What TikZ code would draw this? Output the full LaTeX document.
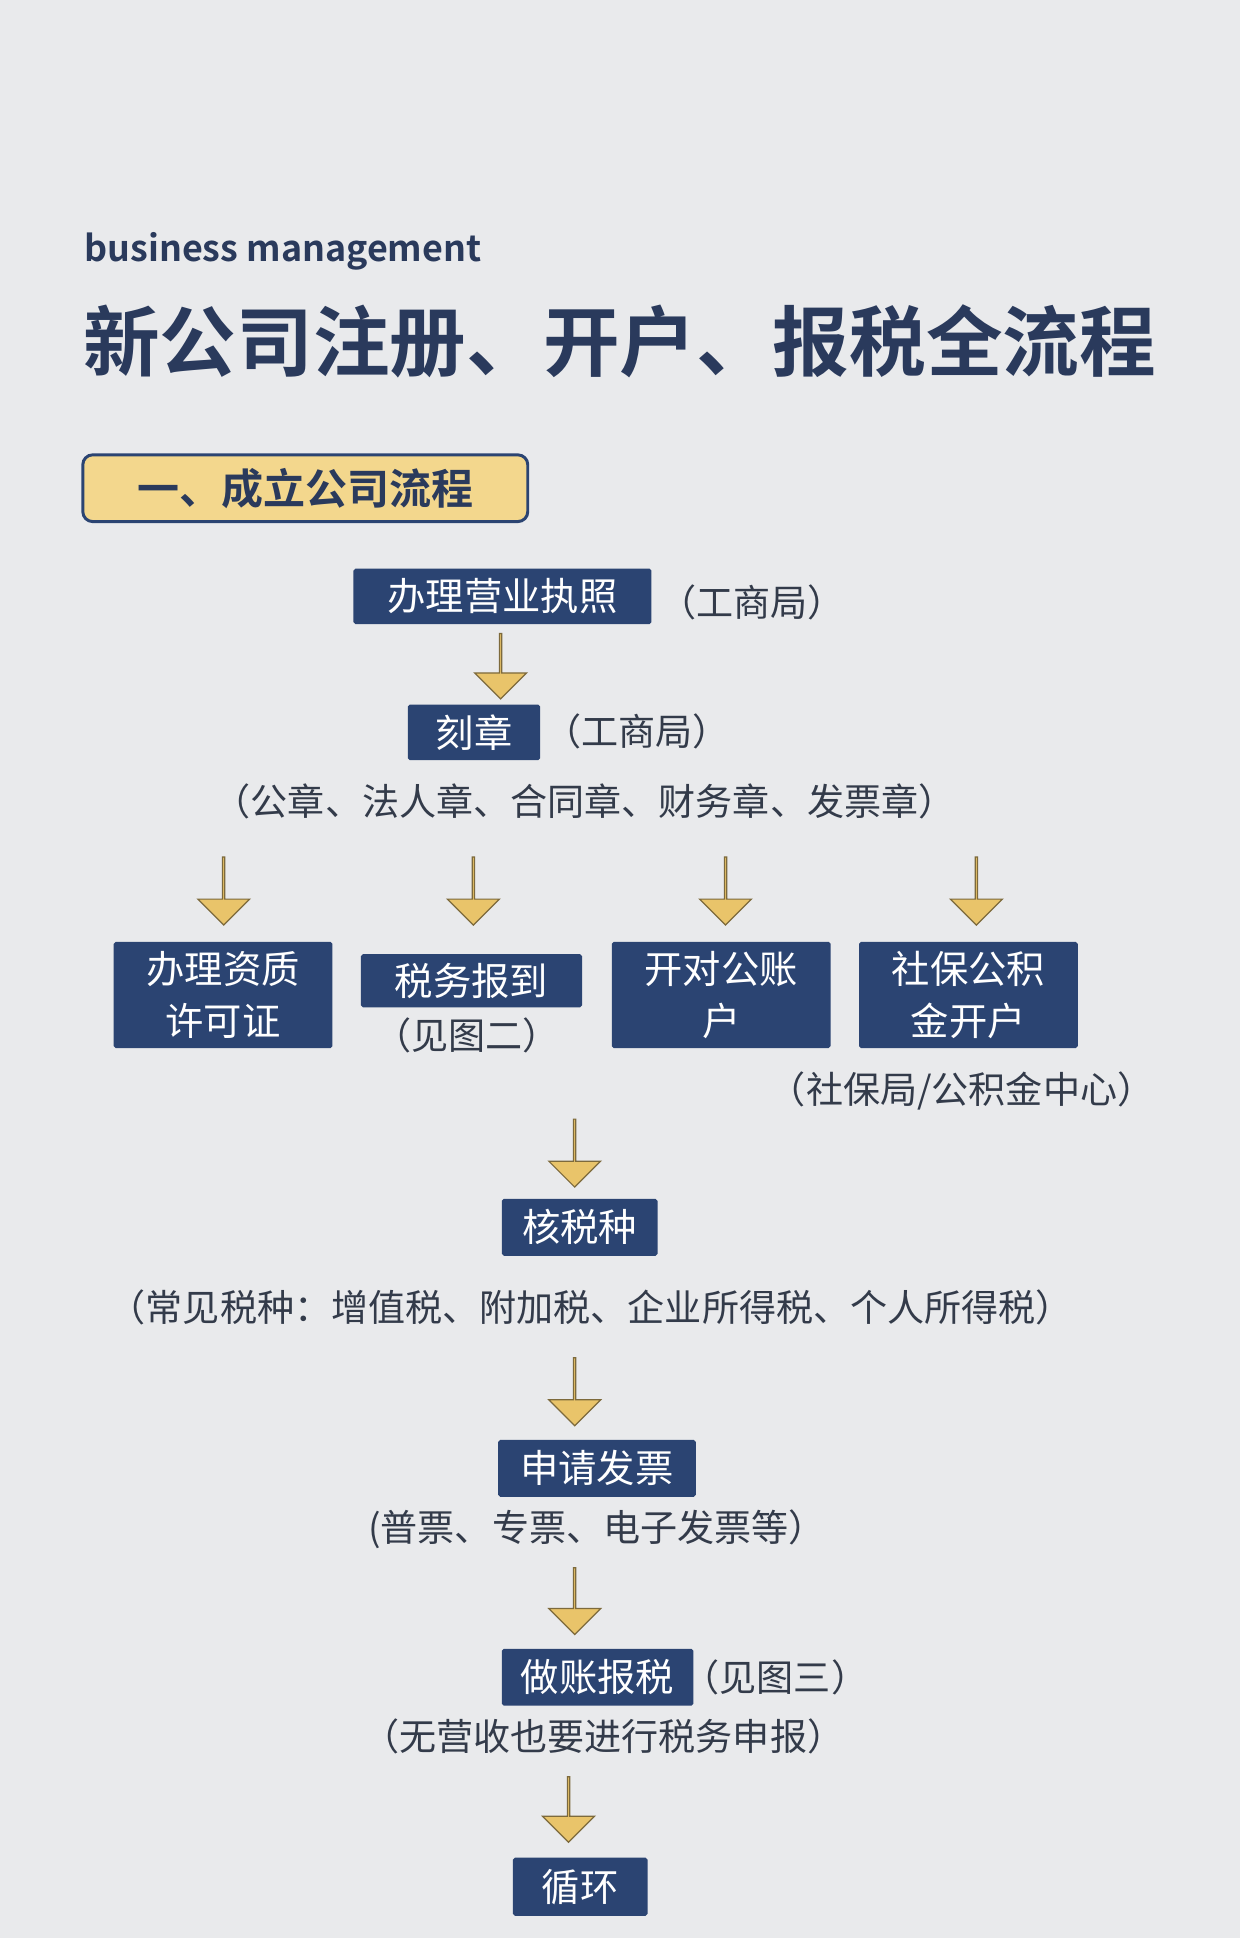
\documentclass[tikz,border=0pt]{standalone}
\usepackage{fontspec}
\setmainfont{Noto Sans}
\newfontfamily\cjk{Noto Sans CJK SC}
\newfontfamily\cjkb{Noto Sans CJK SC}[BoldFont={* Bold}]
\usetikzlibrary{shapes.arrows}
\definecolor{bgc}{HTML}{E9EAEC}
\definecolor{navy}{HTML}{2B4472}
\definecolor{titlec}{HTML}{2A3A5C}
\definecolor{gold}{HTML}{E9C46A}
\definecolor{goldline}{HTML}{7D6A3C}
\definecolor{secfill}{HTML}{F3D78D}
\definecolor{txt}{HTML}{333B4A}
\newcommand{\bx}[6]{\node[boxst, minimum width={(#4-#2)*0.5pt}, minimum height={(#5-#3)*0.5pt}] (#1) at ({(#2+#4)/2},{(#3+#5)/2}) {#6};}
\newcommand{\arw}[4]{\node[arrst, minimum height={(#4-#3)*0.5pt}] (#1) at (#2,{(#3+#4)/2}) {};}
\begin{document}
\begin{tikzpicture}[x=0.5pt,y=-0.5pt,
  boxst/.style={fill=navy, text=white, inner sep=0pt, align=center, font=\cjk\fontsize{15.5}{21}\selectfont, rounded corners=0.8pt},
  arrst/.style={shape=single arrow, rotate=-90, fill=gold, draw=goldline, line width=0.5pt, minimum width=21pt, single arrow head extend=5.5pt, single arrow head indent=0pt, inner sep=0pt},
  lbl/.style={text=txt, font=\cjk\fontsize{15}{19}\selectfont, inner sep=0pt}]
\fill[bgc] (0,0) rectangle (1003,1568);
\useasboundingbox (0,0) rectangle (1003,1568);
\node[anchor=west, text=titlec, font=\cjkb\bfseries\fontsize{14.5}{18}\selectfont, inner sep=0pt] (sub) at (68,203) {business management};
\node[anchor=west, text=titlec, font=\cjkb\bfseries\fontsize{31}{36}\selectfont, inner sep=0pt] (title) at (67,276) {新公司注册、开户、报税全流程};
\node[draw=navy, line width=1.2pt, fill=secfill, rounded corners=4pt, minimum width=180pt, minimum height=27pt, text=titlec, font=\cjkb\bfseries\fontsize{17}{20}\selectfont, inner sep=0pt] (sec) at (247,395) {一、成立公司流程};
\bx{b1}{286}{460}{527}{505}{办理营业执照}
\node[lbl, anchor=west] (l1) at (533,487) {（工商局）};
\arw{a1}{405}{512}{565}
\bx{b2}{330}{570}{437}{615}{刻章}
\node[lbl, anchor=west] (l2) at (440,592) {（工商局）};
\node[lbl] (l3) at (473,648) {（公章、法人章、合同章、财务章、发票章）};
\arw{a2}{181}{693}{748}
\arw{a3}{383}{693}{748}
\arw{a4}{587}{693}{748}
\arw{a5}{790}{693}{748}
\bx{c1}{92}{762}{269}{848}{办理资质\\许可证}
\bx{c2}{292}{772}{471}{815}{税务报到}
\node[lbl] (l4) at (378,838) {（见图二）};
\bx{c3}{495}{762}{672}{848}{开对公账\\户}
\bx{c4}{695}{762}{872}{848}{社保公积\\金开户}
\node[lbl] (l5) at (778,883) {（社保局/公积金中心）};
\arw{a6}{465}{905}{960}
\bx{d1}{406}{970}{532}{1016}{核税种}
\node[lbl] (l6) at (478,1058) {（常见税种：增值税、附加税、企业所得税、个人所得税）};
\arw{a7}{465}{1098}{1153}
\bx{d2}{403}{1165}{563}{1211}{申请发票}
\node[lbl] (l7) at (483,1237) {(普票、专票、电子发票等）};
\arw{a8}{465}{1268}{1322}
\bx{d3}{406}{1334}{561}{1380}{做账报税}
\node[lbl, anchor=west] (l8) at (552,1357) {（见图三）};
\node[lbl] (l9) at (488,1405) {（无营收也要进行税务申报）};
\arw{a9}{460}{1437}{1490}
\bx{d4}{415}{1503}{524}{1550}{循环}
\end{tikzpicture}
\end{document}
